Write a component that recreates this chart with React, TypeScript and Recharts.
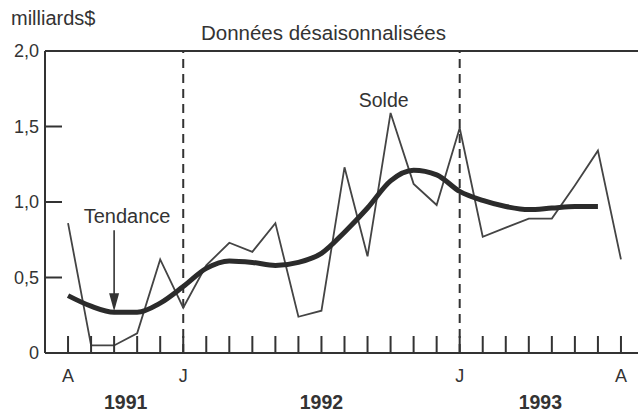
import { LineChart, Line, XAxis, YAxis, ReferenceLine, ReferenceDot } from 'recharts';

// Aug 1991 .. Aug 1993, monthly
const months = ['A', 'S', 'O', 'N', 'D', 'J', 'F', 'M', 'A', 'M', 'J', 'J', 'A', 'S', 'O', 'N', 'D', 'J', 'F', 'M', 'A', 'M', 'J', 'J', 'A'];
const shownMonths = [0, 5, 17, 24];
const years = [
  { at: 2.5, label: '1991' },
  { at: 11, label: '1992' },
  { at: 20.5, label: '1993' },
];
const yTicks = [0, 0.5, 1, 1.5, 2];

const solde = [0.86, 0.05, 0.05, 0.13, 0.62, 0.3, 0.58, 0.73, 0.67, 0.86, 0.24, 0.28, 1.23, 0.64, 1.59, 1.12, 0.98, 1.49, 0.77, 0.83, 0.89, 0.89, 1.11, 1.34, 0.62];
const tendance = [0.38, 0.31, 0.27, 0.27, 0.33, 0.44, 0.56, 0.61, 0.6, 0.58, 0.6, 0.66, 0.8, 0.96, 1.14, 1.21, 1.18, 1.07, 1.01, 0.97, 0.95, 0.96, 0.97, 0.97, null];

const rows = solde.map((s, i) => ({ i, solde: s, tendance: tendance[i] }));

const INK = '#333';
const FONT = "'Liberation Sans', Arial, sans-serif";

function MonthTick({ x, y, payload }: any) {
  const v = payload.value;
  const isMonth = Number.isInteger(v) && v >= 0 && v < months.length;
  const year = years.find((yr) => yr.at === v);
  return (
    <g>
      {isMonth && <line x1={x} x2={x} y1={y} y2={y - 17} stroke={INK} strokeWidth={2} />}
      {isMonth && shownMonths.includes(v) && (
        <text x={x} y={y + 29} textAnchor="middle" fontSize={18} fill={INK} fontFamily={FONT}>
          {months[v]}
        </text>
      )}
      {year && (
        <text x={x} y={y + 56} textAnchor="middle" fontSize={19.5} fontWeight="bold" fill={INK} fontFamily={FONT}>
          {year.label}
        </text>
      )}
    </g>
  );
}

function LeftTick({ x, y, payload }: any) {
  const v = payload.value;
  const label = v === 0 ? '0' : v.toFixed(1).replace('.', ',');
  return (
    <g>
      {v > 0 && v < 2 && <line x1={x} x2={x + 17} y1={y} y2={y} stroke={INK} strokeWidth={2} />}
      <text x={x - 6} y={y} dy="0.36em" textAnchor="end" fontSize={18} fill={INK} fontFamily={FONT}>
        {label}
      </text>
    </g>
  );
}

function RightTick({ x, y, payload }: any) {
  const v = payload.value;
  if (v <= 0 || v >= 2) return <g />;
  return <line x1={x - 17} x2={x} y1={y} y2={y} stroke={INK} strokeWidth={2} />;
}

const textAt = (label: string, dx: number, dy: number, size = 18, anchor = 'middle') => (p: any) => (
  <text x={p.cx + dx} y={p.cy + dy} textAnchor={anchor} fontSize={size} fill={INK} fontFamily={FONT}>
    {label}
  </text>
);

const arrowTo = (p: any) => (
  <g>
    <line x1={p.cx} x2={p.cx} y1={p.cy - 82} y2={p.cy - 16} stroke={INK} strokeWidth={1.6} />
    <path d={`M${p.cx - 5},${p.cy - 19} L${p.cx + 5},${p.cy - 19} L${p.cx},${p.cy - 1} Z`} fill={INK} />
  </g>
);

export default function App() {
  return (
    <div style={{ width: 638, height: 413, overflow: 'hidden', background: '#fff' }}>
      <style>{'body{margin:0}'}</style>
      <LineChart width={650} height={413} data={rows} margin={{ top: 51, right: 0, left: 0, bottom: 0 }}>
        <XAxis
          dataKey="i"
          type="number"
          domain={[-1, 25]}
          ticks={[...months.map((_, i) => i), 2.5, 20.5]}
          interval={0}
          tickSize={0}
          tickMargin={0}
          height={60}
          axisLine={{ stroke: INK, strokeWidth: 2 }}
          tickLine={false}
          tick={<MonthTick />}
        />
        <YAxis
          yAxisId="l"
          domain={[0, 2]}
          ticks={yTicks}
          width={45}
          tickSize={0}
          tickMargin={0}
          axisLine={{ stroke: INK, strokeWidth: 2 }}
          tickLine={false}
          tick={<LeftTick />}
        />
        <YAxis
          yAxisId="r"
          orientation="right"
          domain={[0, 2]}
          ticks={yTicks}
          width={6}
          tickSize={0}
          tickMargin={0}
          axisLine={{ stroke: INK, strokeWidth: 2 }}
          tickLine={false}
          tick={<RightTick />}
        />
        <ReferenceLine yAxisId="l" y={2} stroke={INK} strokeWidth={2} />
        <ReferenceLine yAxisId="l" x={5} stroke={INK} strokeWidth={2} strokeDasharray="9 6" />
        <ReferenceLine yAxisId="l" x={17} stroke={INK} strokeWidth={2} strokeDasharray="9 6" />
        <Line
          yAxisId="l"
          type="linear"
          dataKey="solde"
          stroke="#444"
          strokeWidth={1.8}
          dot={false}
          isAnimationActive={false}
        />
        <Line
          yAxisId="l"
          type="monotone"
          dataKey="tendance"
          stroke="#2b2b2b"
          strokeWidth={5}
          dot={false}
          isAnimationActive={false}
        />
        <ReferenceDot yAxisId="l" x={-1} y={2} r={1} ifOverflow="visible" shape={textAt('milliards$', -34, -26, 20, 'start')} />
        <ReferenceDot yAxisId="l" x={11} y={2} r={1} ifOverflow="visible" shape={textAt('Données désaisonnalisées', 2, -11, 20.5)} />
        <ReferenceDot yAxisId="l" x={13.7} y={1.63} r={1} ifOverflow="visible" shape={textAt('Solde', 0, 0, 19.5)} />
        <ReferenceDot yAxisId="l" x={2.56} y={0.86} r={1} ifOverflow="visible" shape={textAt('Tendance', 0, 0, 20)} />
        <ReferenceDot yAxisId="l" x={2} y={0.27} r={1} ifOverflow="visible" shape={arrowTo} />
      </LineChart>
    </div>
  );
}
